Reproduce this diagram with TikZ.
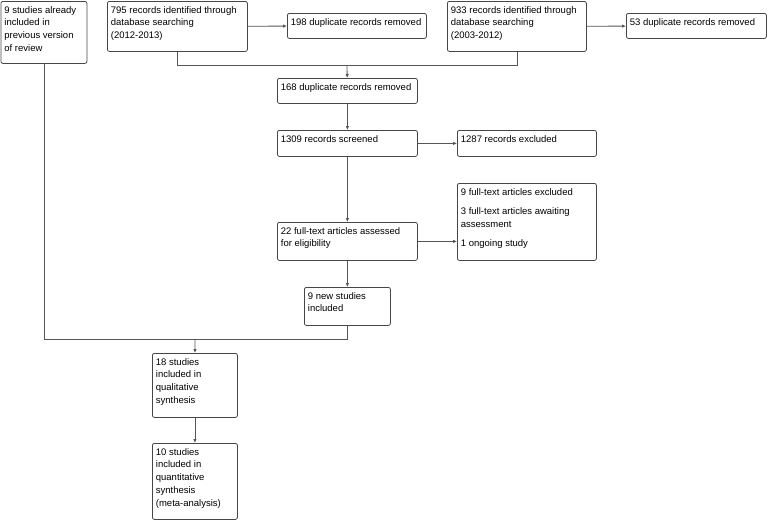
\documentclass[tikz,border=0pt]{standalone}
\usepackage{fontspec}
\setmainfont{Liberation Sans}
\usepackage{tikz}
\usetikzlibrary{arrows.meta,positioning}
\definecolor{prismaEdge}{RGB}{70, 70, 70}
\definecolor{prismaLine}{RGB}{85, 85, 85}
\newcommand{\boxtext}[3]{\parbox[t][#2][t]{#1}{\raggedright\strut #3}}

\begin{document}
\begin{tikzpicture}[
  x=1pt,y=-1pt,
  flow/.style={
    draw=prismaEdge,
    rounded corners=2pt,
    line width=0.8pt,
    anchor=north west,
    inner xsep=3.5pt,
    inner ysep=3pt,
    font=\fontsize{9.5}{12.7}\selectfont
  },
  link/.style={line width=0.8pt,prismaLine},
  arrow/.style={link,-{Latex[length=4pt,width=3.5pt]}}
]
  \useasboundingbox (0,0) rectangle (768,520);

  \node[flow] (prev) at (0.5,1)
    {\boxtext{79pt}{56pt}{9 studies already\\included in\\previous version\\of review}};
  \node[flow] (db1) at (107,1)
    {\boxtext{133pt}{44pt}{795 records identified through\\database searching\\(2012-2013)}};
  \node[flow] (dup198) at (287,13)
    {\boxtext{132pt}{19pt}{198 duplicate records removed}};
  \node[flow] (db2) at (447,1)
    {\boxtext{132pt}{44pt}{933 records identified through\\database searching\\(2003-2012)}};
  \node[flow] (dup53) at (626,13)
    {\boxtext{133pt}{19pt}{53 duplicate records removed}};
  \node[flow] (dup168) at (277,78)
    {\boxtext{133pt}{19pt}{168 duplicate records removed}};
  \node[flow] (screened) at (277,130)
    {\boxtext{133pt}{20pt}{1309 records screened}};
  \node[flow] (excluded) at (457,130)
    {\boxtext{132pt}{20pt}{1287 records excluded}};
  \node[flow] (fulltext) at (277,222)
    {\boxtext{133pt}{32pt}{22 full-text articles assessed\\for eligibility}};
  \node[flow] (ftexcl) at (457,183)
    {\boxtext{132pt}{71pt}{9 full-text articles excluded\\[6.5pt]3 full-text articles awaiting\\assessment\\[6.5pt]1 ongoing study}};
  \node[flow] (newstud) at (304,287)
    {\boxtext{79pt}{32pt}{9 new studies\\included}};
  \node[flow] (qual) at (152,353)
    {\boxtext{78pt}{58pt}{18 studies\\included in\\qualitative\\synthesis}};
  \node[flow] (quant) at (152,443)
    {\boxtext{78pt}{70pt}{10 studies\\included in\\quantitative\\synthesis\\(meta-analysis)}};

  \coordinate (join1) at (347,65);
  \coordinate (join2) at (195,339);

  \draw[arrow] (db1) -- (dup198);
  \draw[arrow] (db2) -- (dup53);
  \draw[link] (db1.south) |- (join1);
  \draw[link] (db2.south) |- (join1);
  \draw[arrow] (join1) -- (dup168);
  \draw[arrow] (dup168) -- (screened);
  \draw[arrow] (screened) -- (excluded);
  \draw[arrow] (screened) -- (fulltext);
  \draw[arrow] (fulltext.east) -- (fulltext.east -| ftexcl.west);
  \draw[arrow] (fulltext.south) -- (fulltext.south |- newstud.north);
  \draw[link] (prev.south) |- (join2);
  \draw[link] (newstud.south) |- (join2);
  \draw[arrow] (join2) -- (qual);
  \draw[arrow] (qual) -- (quant);
\end{tikzpicture}
\end{document}
